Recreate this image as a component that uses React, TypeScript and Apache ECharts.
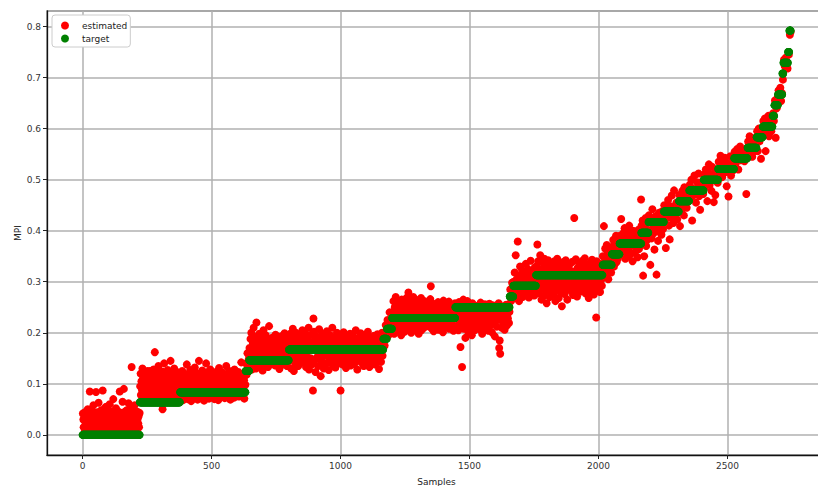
import React, { useEffect, useRef } from "react";
import * as echarts from "echarts";

// Target is a step function: each step starts at a sample index and holds a value
const targetStarts = [0, 222, 378, 632, 646, 800, 1166, 1180, 1200, 1445, 1656, 1670, 1758, 2016, 2052, 2082, 2166, 2194, 2254, 2312, 2352, 2408, 2464, 2526, 2578, 2613, 2637, 2675, 2682, 2696, 2713, 2717, 2735, 2740];
const targetValues = [0.0, 0.064, 0.0835, 0.125, 0.146, 0.167, 0.188, 0.208, 0.229, 0.25, 0.271, 0.292, 0.313, 0.333, 0.354, 0.375, 0.396, 0.417, 0.4375, 0.458, 0.479, 0.5, 0.521, 0.542, 0.5625, 0.583, 0.604, 0.625, 0.646, 0.667, 0.708, 0.729, 0.75, 0.792];
const lastSample = 2745;

// Estimated MPI values (in thousandths), read per target step, spread over that step's samples
const estA = [42,30,15,38,28,8,45,22,36,3,31,50,18,40,12,27,85,6,26,38,20,47,33,10,58,24,41,2,35,16,84,29,44,7,19,35,63,26,13,39,25,48,4,32,17,87,9,43,21,37,52,14,30,55,27,5,46,30,11,40,23,60,34,8,45,26,13,38,20,70,3,44,28,15,36,52,10,33,24,47,18,41,6,29,85,35,12,43,22,38,65,16,31,90,25,45,9,37,20,48,28,14,40,33,62,19,44,26,7,36,53,133,21,46,30,11,39,24,58,34,17,42,27,8,45,32,22,38,15,43];
const estB = [95,120,78,105,88,130,72,112,98,84,118,66,102,93,110,79,125,87,115,101,96,90,125,76,108,94,115,70,100,86,128,82,110,162,74,122,104,89,116,68,99,135,80,107,92,119,73,101,87,124,50,69,113,97,140,83,106,91,117,77,109,95,127,71,103,88,121,98,145,81,111,94,76,118,100,85,130,92,107,79,114,97,123,86,102,74,117,90,108,95];
const estC = [100,72,115,88,125,95,68,108,82,120,91,76,112,98,138,85,70,104,118,93,79,127,101,66,110,87,122,96,74,116,89,132,105,78,99,121,84,69,113,94,145,80,107,119,90,73,102,126,86,111,97,67,117,83,103,140,92,75,109,123,88,71,106,99,128,81,114,95,77,120,100,85,110,70,118,93,104,79,124,89,112,68,101,131,84,97,116,74,108,91,122,80,103,95,119,72,110,87,135,99,76,114,92,106,83,125,98,69,117,88,102,79,121,94,110,73,128,86,105,97,115,81,100,90,123,75,108,96,113,84,142,92,104,78,119,89,107,71,116,98];
const estC2 = [140,118,160,132,150];
const estD = [170,135,188,152,200,128,165,180,145,210,158,138,192,172,130,220,162,148,185,140,175,198,155,132,168,190,143,178,126,160,205,150,183,137,170,195,157,142,187,165,133,176,213,149,182,160,139,172,190,153,167,145,185,158,178,136,196,163,150,181,141,170,155,188,129,164,177,147,193,159,174,138,184,152,168,199,144,180,161,173,135,187,156,170,148];
const estE = [180,145,198,160,130,185,172,208,150,125,190,165,140,200,175,155,183,135,182,168,195,148,158,178,160,205,142,188,170,152,155,198,133,176,162,192,145,210,128,183,167,150,196,138,173,87,228,202,146,185,123,170,193,152,180,135,163,207,148,188,115,175,160,198,142,182,130,168,192,155,177,140,203,162,186,127,172,150,195,145,180,165,210,137,158,190,148,175,132,183,168,200,153,140,178,162,195,145,87,170,157,189,138,174,201,149,166,184,131,176,160,194,143,171,187,154,198,136,168,181,147,179,163,192,139,172,156,205,144,185,128,167,190,151,176,161,199,142,183,170,153,188,135,174,196,158,169,145,181,164,202,149,177,133,191,160,186,141,172,156,179,146,194,163,138,185,171,150,197,166,182,129,175,159,189,143,168,200,155,178];
const estE2 = [200,175,215,190];
const estE3 = [225,195,240,215,205];
const estF = [240,215,262,228,198,250,235,270,210,245,222,258,205,238,248,218,252,230,195,265,242,212,248,225,260,202,236,255,220,268,232,208,246,279,226,253,214,240,262,200,233,250,218,270,238,207,256,228,244,212,264,235,222,250,198,241,258,216,230,268,205,247,225,255,236,210,262,230,245,220,251,227,239,213,259,234,243,219,266,291,209,249,237,224,257,203,242,229,254,216,231,235,247,221,260,206,239,252,226,244,214,258,232,248,201,263,237,224,253,211,241,256,228,219,246,234,261,208,249,230,243,217,255,236,225,250,204,240,229,258];
const estG = [235,212,255,228,245,205,260,220,238,172,250,215,133,232,265,208,242,225,190,252,218,236,262,202,246,228,210,255,222,240,195,258,232,214,248,205,236,226,244,211,253,230,219,247,207,239,259,223,241,198,234,251,216,229,256,209,243,221,237,249,204,232,257,213,245,227,238,201,254,218,242,230,193,250,224,236,212,247,229,258,170,185,159,225,252,210,240,230,218,245,206,238,222,255,214,236,228,248,219,241];
const estG2 = [285,262,298,275];
const estH = [300,275,318,285,352,268,305,290,379,280,312,262,296,330,278,308,288,322,270,302,284,315,276,298,335,292,310,281,325,297,269,316,287,304,341,279,311,294,320,283,306,273,328,299,314];
const estI = [330,290,373,305,340,278,318,298,352,285,325,265,310,338,292,320,272,345,300,315,282,332,258,308,295,342,288,322,270,312,335,296,280,326,305,318,290,275,340,300,262,328,310,286,345,298,320,268,334,292,310,280,325,302,252,338,288,315,296,330,276,308,342,290,318,265,300,326,285,312,295,335,305,283,321,297,339,274,314,289,425,303,279,344,293,317,271,327,306,288,336,299,331,313,281,323,296,341,284,309,327,291,346,302,277,319,294,333,286,311,268,329,304,337,282,316,298,343,289,320,306,275,332,295,318,284,230,340,301,312,287,325,297,335,280,314,303,328,292,310];
const est333 = [350,322,409,338,365,315,345,372,330,358,305,340,326,362,348,318,355];
const est354 = [368,340,382,355,330,375,362,348,390,338,360,372,345,380,352,366];
const est375 = [390,360,423,378,352,395,370,405,345,385,362,398,375,350,410,368,388,355,380,340,400,372,383,358,392,366,377,348,402,364,386,371,461];
const est396 = [410,378,420,312,395,350,405,388,425,370,398,382,415,392];
const est417 = [430,400,333,420,385,442,410,395,363,428,405,314,418,380,435,398,412,425,392,438,403,416];
const est438 = [450,420,366,445,430,460,410,383,448,425,469,438,415,479,440,432,455,422,446,436];
const est458 = [470,409,455,440,478,462,430,485,450,468,445,472,458,463];
const est479 = [490,465,500,420,482,470,508,475,455,495,485,512,468,441,488,477,497,472];
const est500 = [510,485,520,495,458,515,530,490,505,478,525,500,456,512,470,503,518,494];
const est521 = [535,510,547,528,505,540,520,543,515,487,532,467,525,546,508,530,518,537];
const est542 = [555,530,548,560,520,545,565,538,552,543,558,536,550,472,562];
const est563 = [575,550,585,565,570,545,580,560,572,556,583];
const est583 = [595,556,600,575,590,541,586,598];
const est604 = [615,590,620,556,610,598,625,585,605,612,595,618];
const est625 = [630,615];
const est646 = [655,582,640,660];
const est667 = [675,660,680,654,670];
const est708 = [696];
const est729 = [735,722,739,728,718];
const est750 = [745];
const est792 = [784,790];

const estimatedBySegment = [estA, estB, estC, estC2, estD, estE, estE2, estE3, estF, estG, estG2, estH, estI, est333, est354, est375, est396, est417, est438, est458, est479, est500, est521, est542, est563, est583, est604, est625, est646, est667, est708, est729, est750, est792];

const segEnd = (i: number) => (i + 1 < targetStarts.length ? targetStarts[i + 1] - 1 : lastSample);

const targetData: number[][] = [];
targetStarts.forEach((s, i) => {
  for (let k = s; k <= segEnd(i); k++) targetData.push([k, targetValues[i]]);
});

const estimatedData: number[][] = [];
estimatedBySegment.forEach((vals, i) => {
  const s = targetStarts[i];
  const e = segEnd(i);
  const step = (e - s + 1) / vals.length;
  vals.forEach((v, j) => estimatedData.push([Math.round(s + (j + 0.5) * step), v / 1000]));
});

const FONT = "DejaVu Sans";

export default function App() {
  const ref = useRef<HTMLDivElement>(null);
  useEffect(() => {
    if (!ref.current) return;
    const chart = echarts.init(ref.current, undefined, { renderer: "svg" });
    chart.setOption({
      animation: false,
      backgroundColor: "#ffffff",
      textStyle: { fontFamily: FONT },
      grid: {
        left: 47,
        right: -8,
        top: 11,
        bottom: 31,
        containLabel: false,
        outerBoundsMode: "none",
        show: true,
        borderColor: "#222222",
        borderWidth: 1.2,
      },
      legend: {
        data: ["estimated", "target"],
        orient: "vertical",
        left: 52,
        top: 15,
        padding: [6, 3, 4, 9],
        itemGap: 4,
        itemWidth: 24,
        itemHeight: 8,
        icon: "circle",
        backgroundColor: "#ffffff",
        borderColor: "#cccccc",
        borderWidth: 1,
        borderRadius: 3,
        textStyle: { fontSize: 9, color: "#222222", fontFamily: FONT },
      },
      xAxis: {
        type: "value",
        min: -138,
        max: 2882,
        splitNumber: 6,
        name: "Samples",
        nameLocation: "middle",
        nameGap: 22,
        nameTextStyle: { fontSize: 9, color: "#222222", fontFamily: FONT },
        axisLine: { show: true, onZero: false, lineStyle: { color: "#111111", width: 1.3 } },
        axisTick: { show: true, length: 4, lineStyle: { color: "#222222" } },
        axisLabel: {
          fontSize: 9,
          color: "#333333",
          margin: 6,
          showMinLabel: false,
          showMaxLabel: false,
          fontFamily: FONT,
          formatter: (v: number) => String(v),
        },
        splitLine: { show: true, lineStyle: { color: "#b0b0b0", width: 1.5 } },
      },
      yAxis: {
        type: "value",
        min: -0.0395,
        max: 0.8305,
        splitNumber: 8,
        name: "MPI",
        nameLocation: "middle",
        nameGap: 25,
        nameRotate: 90,
        nameMoveOverlap: false,
        nameTextStyle: { fontSize: 9, color: "#222222", fontFamily: FONT },
        axisLine: { show: true, onZero: false, lineStyle: { color: "#111111", width: 1.3 } },
        axisTick: { show: true, length: 4, lineStyle: { color: "#222222" } },
        axisLabel: {
          fontSize: 9,
          color: "#333333",
          margin: 6,
          showMinLabel: false,
          showMaxLabel: false,
          fontFamily: FONT,
          formatter: (v: number) => v.toFixed(1),
        },
        splitLine: { show: true, lineStyle: { color: "#b0b0b0", width: 1.5 } },
      },
      series: [
        {
          name: "estimated",
          type: "scatter",
          data: estimatedData,
          symbol: "circle",
          symbolSize: 8,
          itemStyle: { color: "#ff0000", opacity: 1 },
          silent: true,
          progressive: 0,
        },
        {
          name: "target",
          type: "scatter",
          data: targetData,
          symbol: "circle",
          symbolSize: 8,
          itemStyle: { color: "#008000", opacity: 1 },
          silent: true,
          progressive: 0,
        },
      ],
    });
    return () => chart.dispose();
  }, []);
  return (
    <div
      ref={ref}
      style={{ position: "absolute", left: 0, top: 0, width: 818, height: 486, background: "#fff" }}
    />
  );
}
